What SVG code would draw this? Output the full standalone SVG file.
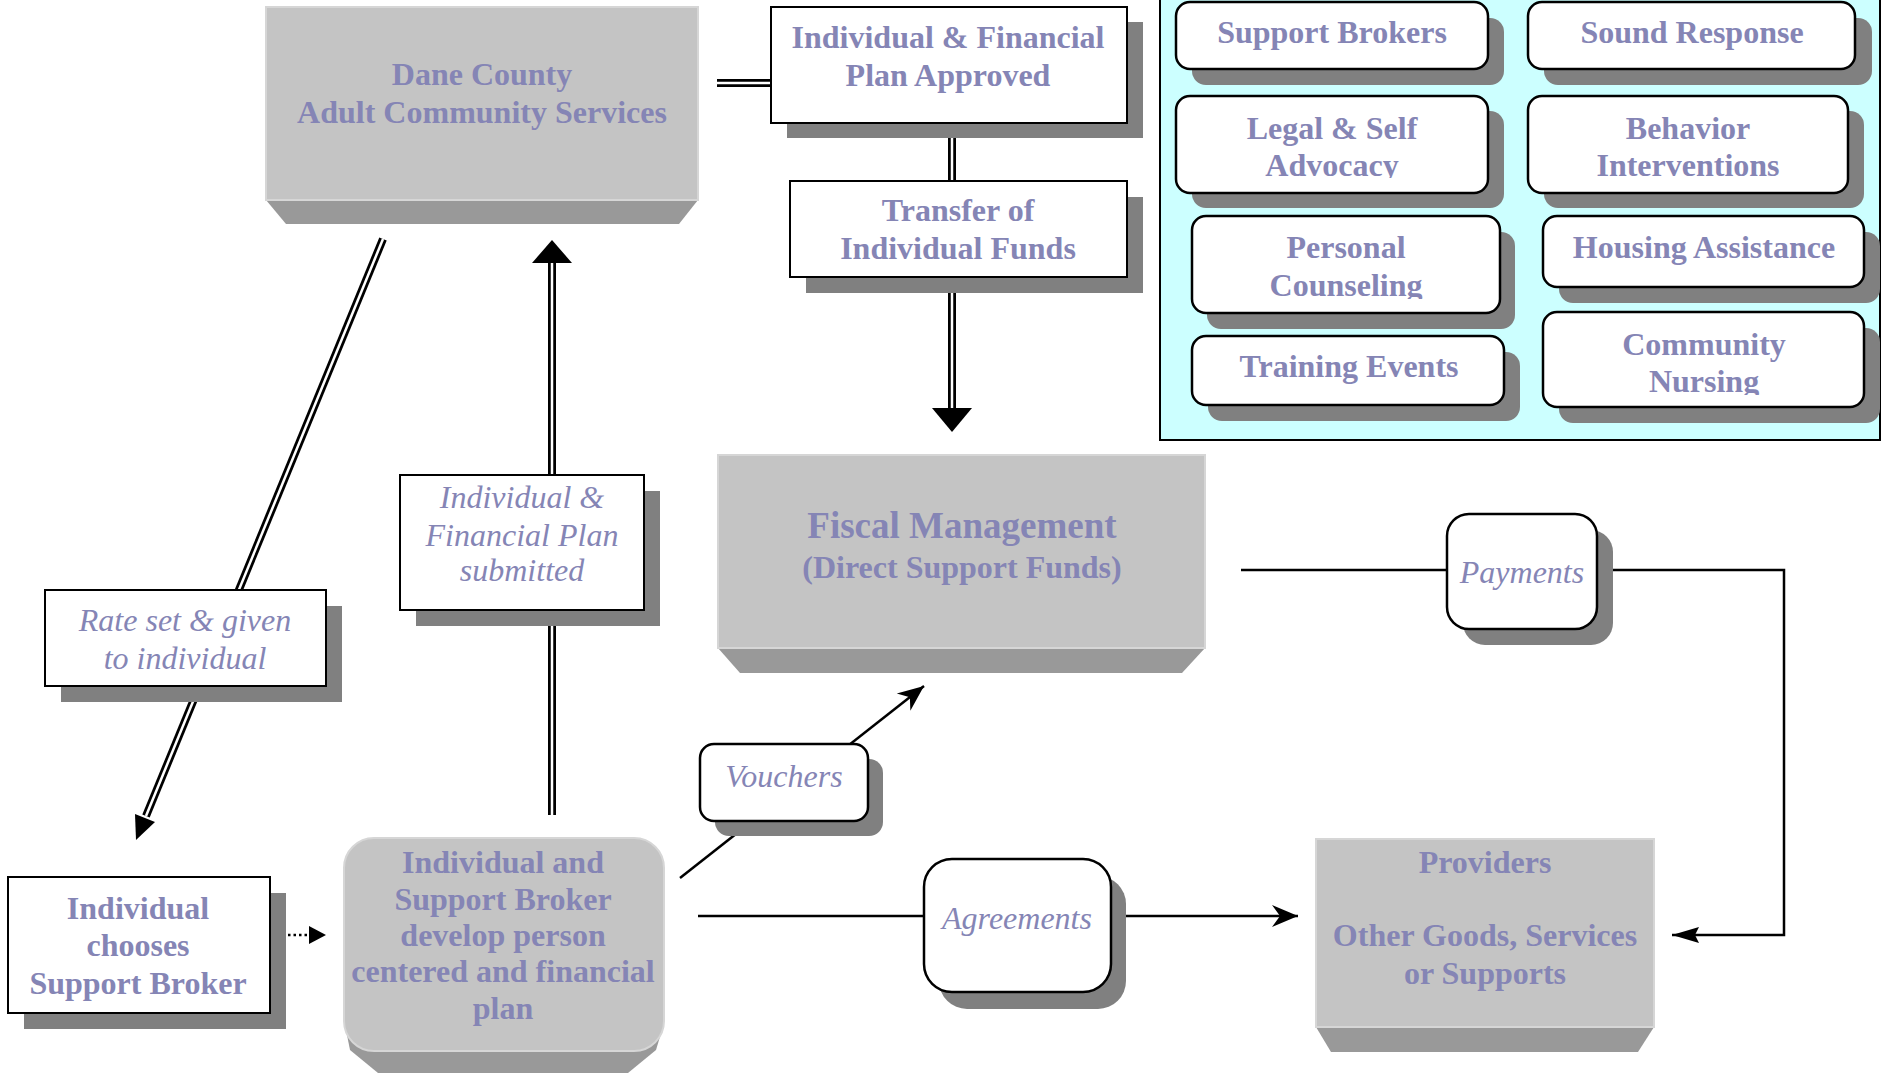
<svg xmlns="http://www.w3.org/2000/svg" width="1891" height="1073" viewBox="0 0 1891 1073">
<style>
.t{font-family:"Liberation Serif","Times New Roman",serif;font-weight:bold;font-size:32px;fill:#8585B5;text-anchor:middle}
.i{font-family:"Liberation Serif","Times New Roman",serif;font-style:italic;font-size:32px;fill:#8585B5;text-anchor:middle}
.face{fill:#C4C4C4;stroke:#D6D6D6;stroke-width:2}
.bevel{fill:#999999}
.sh{fill:#808080}
.box{fill:#FFFFFF;stroke:#000;stroke-width:2}
.rbox{fill:#FFFFFF;stroke:#000;stroke-width:2.5}
.dblo{fill:none;stroke:#000;stroke-width:8}
.dbli{fill:none;stroke:#FFF;stroke-width:2.5}
.ln{fill:none;stroke:#000;stroke-width:2.5}
</style>
<defs>
<marker id="stealth" viewBox="-28 -13 30 26" refX="0" refY="0" markerWidth="30" markerHeight="26" markerUnits="userSpaceOnUse" orient="auto">
<path d="M0,0 L-26,-11 L-18,0 L-26,11 Z" fill="#000"/>
</marker>
<marker id="tri" viewBox="-30 -10 32 20" refX="0" refY="0" markerWidth="32" markerHeight="20" markerUnits="userSpaceOnUse" orient="auto">
<path d="M0,0 L-27,-8 L-23,0 L-27,8 Z" fill="#000"/>
</marker>
<clipPath id="cl1"><rect x="1176" y="96" width="312" height="82"/></clipPath>
<clipPath id="cl2"><rect x="1192" y="216" width="308" height="83"/></clipPath>
<clipPath id="cl3"><rect x="1543" y="312" width="321" height="83"/></clipPath>
</defs>
<rect width="1891" height="1073" fill="#FFFFFF"/>

<g id="panel">
<rect x="1160" y="-2" width="720" height="442" fill="#CCFFFF" stroke="#000" stroke-width="2"/>
</g>

<g id="connectors">
<path class="dblo" d="M717,83 H771"/><path class="dbli" d="M717,83 H771"/>
<path class="dblo" d="M952,123 V181"/><path class="dbli" d="M952,123 V181"/>
<path class="dblo" d="M952,293 V410"/><path class="dbli" d="M952,293 V410"/>
<polygon points="932,408 972,408 952,432" fill="#000"/>
<path class="dblo" d="M552,815 V261"/><path class="dbli" d="M552,815 V261"/>
<polygon points="532,263 572,263 552,240" fill="#000"/>
<path class="dblo" d="M383,239 L146,816"/><path class="dbli" d="M383,239 L146,816"/>
<polygon points="136,840 155,822 135,814" fill="#000"/>
<path class="ln" d="M680,878 L924,686" marker-end="url(#stealth)"/>
<path class="ln" d="M698,916 H1298" marker-end="url(#stealth)"/>
<path class="ln" d="M1241,570 H1784 V935 H1672" marker-end="url(#tri)"/>
<path d="M288,935 H310" fill="none" stroke="#000" stroke-width="2.5" stroke-dasharray="2.5,3"/>
<polygon points="309,926 326,935 309,944" fill="#000"/>
</g>

<g id="dane">
<polygon class="bevel" points="266,200 698,200 679,224 286,224"/>
<rect class="face" x="266" y="7" width="432" height="193"/>
<text class="t" x="482" y="85">Dane County</text>
<text class="t" x="482" y="123">Adult Community Services</text>
</g>

<g id="approved">
<rect class="sh" x="787" y="22" width="356" height="116"/>
<rect class="box" x="771" y="7" width="356" height="116"/>
<text class="t" x="948" y="48">Individual &amp; Financial</text>
<text class="t" x="948" y="86">Plan Approved</text>
</g>

<g id="transfer">
<rect class="sh" x="806" y="197" width="337" height="96"/>
<rect class="box" x="790" y="181" width="337" height="96"/>
<text class="t" x="958" y="221">Transfer of</text>
<text class="t" x="958" y="259">Individual Funds</text>
</g>

<g id="support-brokers">
<rect class="sh" x="1192" y="18" width="312" height="67" rx="14"/>
<rect class="rbox" x="1176" y="2" width="312" height="67" rx="14"/>
<text class="t" x="1332" y="43">Support Brokers</text>
</g>
<g id="sound-response">
<rect class="sh" x="1544" y="18" width="328" height="67" rx="14"/>
<rect class="rbox" x="1528" y="2" width="327" height="67" rx="14"/>
<text class="t" x="1692" y="43">Sound Response</text>
</g>
<g id="legal">
<rect class="sh" x="1192" y="111" width="312" height="97" rx="14"/>
<rect class="rbox" x="1176" y="96" width="312" height="97" rx="14"/>
<g clip-path="url(#cl1)">
<text class="t" x="1332" y="139">Legal &amp; Self</text>
<text class="t" x="1332" y="176">Advocacy</text>
</g>
</g>
<g id="behavior">
<rect class="sh" x="1544" y="111" width="320" height="97" rx="14"/>
<rect class="rbox" x="1528" y="96" width="320" height="97" rx="14"/>
<text class="t" x="1688" y="139">Behavior</text>
<text class="t" x="1688" y="176">Interventions</text>
</g>
<g id="personal">
<rect class="sh" x="1207" y="232" width="308" height="97" rx="14"/>
<rect class="rbox" x="1192" y="216" width="308" height="97" rx="14"/>
<g clip-path="url(#cl2)">
<text class="t" x="1346" y="258">Personal</text>
<text class="t" x="1346" y="296">Counseling</text>
</g>
</g>
<g id="housing">
<rect class="sh" x="1559" y="232" width="321" height="71" rx="14"/>
<rect class="rbox" x="1543" y="216" width="321" height="71" rx="14"/>
<text class="t" x="1704" y="258">Housing Assistance</text>
</g>
<g id="training">
<rect class="sh" x="1208" y="352" width="312" height="69" rx="14"/>
<rect class="rbox" x="1192" y="336" width="312" height="69" rx="14"/>
<text class="t" x="1349" y="377">Training Events</text>
</g>
<g id="community">
<rect class="sh" x="1559" y="328" width="321" height="95" rx="14"/>
<rect class="rbox" x="1543" y="312" width="321" height="95" rx="14"/>
<g clip-path="url(#cl3)">
<text class="t" x="1704" y="355">Community</text>
<text class="t" x="1704" y="392">Nursing</text>
</g>
</g>

<g id="fiscal">
<polygon class="bevel" points="718,648 1205,648 1182,673 740,673"/>
<rect class="face" x="718" y="455" width="487" height="193"/>
<text class="t" x="962" y="538" style="font-size:37px">Fiscal Management</text>
<text class="t" x="962" y="578">(Direct Support Funds)</text>
</g>

<g id="payments">
<rect class="sh" x="1463" y="530" width="150" height="115" rx="22"/>
<rect class="rbox" x="1447" y="514" width="150" height="115" rx="22"/>
<text class="i" x="1522" y="583">Payments</text>
</g>

<g id="rate-set">
<rect class="sh" x="61" y="606" width="281" height="96"/>
<rect class="box" x="45" y="590" width="281" height="96"/>
<text class="i" x="185" y="631">Rate set &amp; given</text>
<text class="i" x="185" y="669">to individual</text>
</g>

<g id="plan-submitted">
<rect class="sh" x="416" y="491" width="244" height="135"/>
<rect class="box" x="400" y="475" width="244" height="135"/>
<text class="i" x="522" y="508">Individual &amp;</text>
<text class="i" x="522" y="546">Financial Plan</text>
<text class="i" x="522" y="581">submitted</text>
</g>

<g id="vouchers">
<rect class="sh" x="715" y="759" width="168" height="77" rx="14"/>
<rect class="rbox" x="700" y="744" width="168" height="77" rx="14"/>
<text class="i" x="784" y="787">Vouchers</text>
</g>

<g id="agreements">
<rect class="sh" x="939" y="876" width="187" height="133" rx="28"/>
<rect class="rbox" x="924" y="859" width="187" height="133" rx="28"/>
<text class="i" x="1017" y="929">Agreements</text>
</g>

<g id="chooses">
<rect class="sh" x="24" y="893" width="262" height="136"/>
<rect class="box" x="8" y="877" width="262" height="136"/>
<text class="t" x="138" y="919">Individual</text>
<text class="t" x="138" y="956">chooses</text>
<text class="t" x="138" y="994">Support Broker</text>
</g>

<g id="develop">
<path class="bevel" d="M346,1030 H662 L656,1050 L628,1073 H378 L350,1050 Z"/>
<rect class="face" x="344" y="838" width="320" height="213" rx="30"/>
<text class="t" x="503" y="873">Individual and</text>
<text class="t" x="503" y="910">Support Broker</text>
<text class="t" x="503" y="946">develop person</text>
<text class="t" x="503" y="982">centered and financial</text>
<text class="t" x="503" y="1019">plan</text>
</g>

<g id="providers">
<polygon class="bevel" points="1316,1027 1654,1027 1638,1052 1331,1052"/>
<rect class="face" x="1316" y="839" width="338" height="188"/>
<text class="t" x="1485" y="873">Providers</text>
<text class="t" x="1485" y="946">Other Goods, Services</text>
<text class="t" x="1485" y="984">or Supports</text>
</g>
</svg>
